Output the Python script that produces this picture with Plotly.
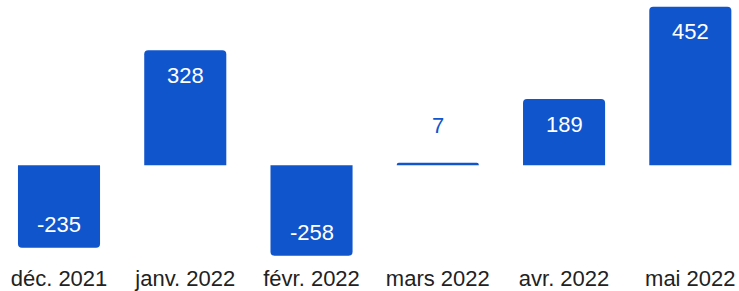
import plotly.graph_objects as go

categories = ["déc. 2021", "janv. 2022", "févr. 2022", "mars 2022", "avr. 2022", "mai 2022"]
values = [-235, 328, -258, 7, 189, 452]

BLUE = "#1155CC"
FONT = "Liberation Sans, Arial, sans-serif"
W, H = 739, 291
mt, mb = 0, 28
plot_h = H - mt - mb
zero_px = 165.3
scale = 0.3507  # px per unit
y_top = zero_px / scale
y_bot = -(plot_h - zero_px) / scale

x = list(range(len(categories)))
fig = go.Figure()
fig.add_trace(go.Bar(
    x=x, y=values, width=0.65,
    marker=dict(color=BLUE, cornerradius=4, line=dict(width=0)),
    hoverinfo="skip",
))

annotations = []
for xi, v in zip(x, values):
    small = abs(v) * scale < 45
    if small:
        shift = 37 if v >= 0 else -37
        col = BLUE
    else:
        shift = -25 if v >= 0 else 23
        col = "white"
    annotations.append(dict(
        x=xi, y=v, text=str(v), showarrow=False, yshift=shift,
        font=dict(family=FONT, size=22, color=col),
        xanchor="center", yanchor="middle",
    ))

fig.update_layout(
    width=W, height=H,
    margin=dict(l=0, r=0, t=mt, b=mb, autoexpand=False),
    paper_bgcolor="white", plot_bgcolor="white",
    showlegend=False,
    annotations=annotations,
    font=dict(family=FONT, size=22, color="#222222"),
    xaxis=dict(
        range=[-0.4673, 5.3856], tickmode="array", tickvals=x, ticktext=categories,
        showgrid=False, zeroline=False, showline=False, ticks="", automargin=False,
        tickfont=dict(family=FONT, size=22, color="#222222"),
    ),
    yaxis=dict(
        range=[y_bot, y_top], showgrid=False, zeroline=False, showline=False,
        showticklabels=False, ticks="", automargin=False,
    ),
)

fig.write_html("out.html", config={"displayModeBar": False},
               post_script="document.body.style.margin='0px';")
